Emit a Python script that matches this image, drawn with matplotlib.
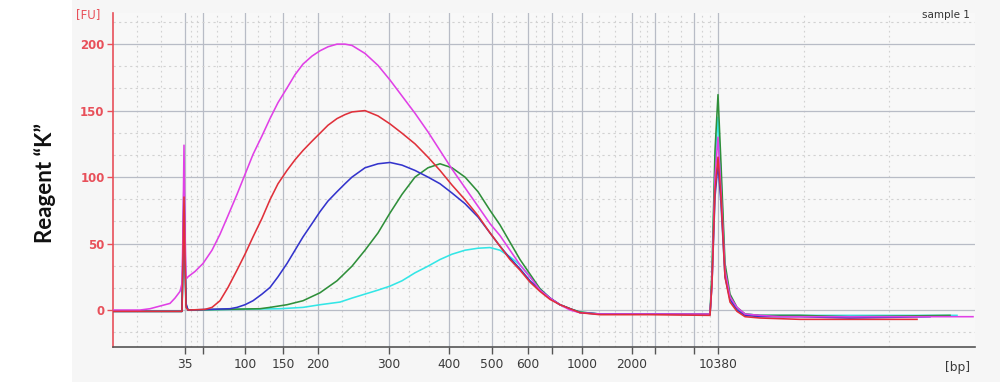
import numpy as np
import matplotlib
matplotlib.use("Agg")
import matplotlib.pyplot as plt
from matplotlib.patches import Rectangle

# x positions are migration positions along the electropherogram axis (arbitrary units)
major_pos = [113, 185, 203, 245, 283, 318, 389, 449, 492, 528, 552, 582, 632, 655, 694, 718, 975]
major_lab = ['', '35', '', '100', '150', '200', '300', '400', '500', '600', '', '1000', '2000', '', '', '10380', '']

# traces: (position, fluorescence units)
mag_x = [113, 140, 150, 160, 170, 175, 180, 182, 183, 184, 185, 186, 187, 188, 195, 203, 212, 220, 228, 237,
         245, 253, 262, 270, 278, 287, 295, 303, 312, 320, 328, 337, 345, 352, 365, 378, 390, 402, 415, 428,
         440, 452, 465, 478, 490, 500, 510, 520, 530, 540, 550, 560, 570, 580, 600, 620, 650, 680, 700, 710,
         712, 715, 718, 721, 725, 730, 737, 745, 760, 780, 820, 860, 900, 940, 973]
mag_y = [0, 0, 1, 3, 5, 9, 14, 20, 60, 124, 60, 25, 24, 25, 29, 35, 45, 57, 71, 87,
         102, 117, 131, 144, 156, 167, 177, 185, 191, 195, 198, 200, 200, 199, 193, 184, 173, 161, 148, 134,
         120, 106, 92, 78, 65, 56, 45, 34, 25, 15, 9, 4, 0, -2, -3, -3, -3, -3, -3, -3,
         20, 100, 130, 90, 30, 10, 2, -3, -4, -5, -5, -5, -5, -5, -5]

red_x = [113, 150, 182, 183, 184, 185, 186, 188, 205, 212, 220, 228, 237, 245, 253, 262, 270, 278, 287, 295,
         303, 312, 320, 328, 337, 345, 352, 365, 378, 390, 402, 415, 428, 440, 452, 465, 478, 490, 500, 510,
         520, 530, 540, 550, 560, 570, 580, 600, 650, 710, 712, 715, 718, 721, 725, 730, 737, 745, 760, 800,
         850, 917]
red_y = [-1, -1, -1, 40, 85, 40, 2, 0, 0.5, 2, 7, 17, 30, 42, 55, 69, 83, 95, 105, 113,
         120, 127, 133, 139, 144, 147, 149, 150, 146, 140, 133, 125, 115, 105, 94, 83, 71, 58, 48, 38,
         30, 21, 14, 8, 4, 1, -2, -3.5, -3.5, -4, 20, 90, 115, 85, 25, 6, -1, -5, -6, -7,
         -7, -7]

blue_x = [113, 182, 183, 184, 185, 186, 188, 230, 237, 245, 253, 262, 270, 278, 287, 295, 303, 312, 320, 328,
          337, 345, 352, 365, 378, 390, 402, 415, 428, 440, 452, 465, 478, 490, 500, 510, 520, 530, 540, 550,
          560, 570, 580, 600, 650, 710, 712, 715, 718, 721, 725, 730, 737, 745, 760, 800, 850, 930]
blue_y = [-1, -1, 50, 100, 50, 5, 0, 1, 2, 4, 7, 12, 17, 25, 35, 45, 55, 65, 74, 82,
          89, 95, 100, 107, 110, 111, 109, 105, 100, 95, 88, 80, 70, 58, 48, 39, 31, 22, 15, 9,
          4, 1, -2, -3, -3, -3.5, 20, 85, 110, 80, 25, 8, 0, -4, -5, -5, -6, -5]

green_x = [113, 182, 183, 184, 185, 186, 188, 260, 270, 287, 303, 320, 337, 352, 365, 378, 390, 402, 415, 428,
           440, 452, 465, 478, 490, 500, 510, 520, 530, 540, 550, 560, 570, 580, 600, 650, 710, 712, 715, 718,
           721, 725, 730, 737, 745, 760, 800, 850, 950]
green_y = [-1, -1, 40, 90, 40, 4, 0, 1, 2, 4, 7, 13, 22, 33, 45, 58, 73, 87, 100, 107,
           110, 107, 100, 89, 75, 64, 51, 38, 27, 16, 9, 4, 1, -1.5, -3, -3, -3, 30, 120, 162,
           110, 35, 12, 2, -3, -4, -4, -5, -4]

cyan_x = [113, 182, 183, 184, 185, 186, 188, 280, 303, 320, 340, 352, 365, 378, 390, 402, 415, 428, 440, 452,
          465, 478, 490, 500, 510, 520, 530, 540, 550, 560, 570, 580, 600, 650, 710, 712, 715, 718, 721, 725,
          730, 737, 745, 760, 800, 850, 957]
cyan_y = [-1, -1, 30, 70, 30, 3, 0, 1, 2, 4, 6, 9, 12, 15, 18, 22, 28, 33, 38, 42,
          45, 46.5, 47, 45, 40, 34, 25, 16, 9, 4, 1, -1.5, -3, -3, -3, 25, 110, 145, 100, 30,
          10, 1, -3, -4, -4, -4, -4]

fig = plt.figure(figsize=(10, 3.82), dpi=100)
fig.patches.append(Rectangle((0.072, 0), 0.928, 1, transform=fig.transFigure,
                             facecolor='#f6f6f6', edgecolor='none', zorder=-10))
ax = fig.add_axes([0.113, 0.0916, 0.862, 0.874])
ax.set_facecolor('#f8f8f8')

ax.set_xlim(113, 975)
ax.set_ylim(-27.8, 223.3)

# grid: solid at major positions, dotted at thirds in between
for i, p in enumerate(major_pos):
    if i > 0:
        q = major_pos[i - 1]
        for f in (1 / 3, 2 / 3):
            ax.axvline(q + (p - q) * f, color='#d2d2d2', lw=0.8, ls=(0, (1.5, 3)), zorder=0)
    if 0 < i < len(major_pos) - 1:
        ax.axvline(p, color='#b8bcc6', lw=0.9, zorder=0)
for v in [0, 50, 100, 150, 200]:
    ax.axhline(v, color='#b8bcc6', lw=0.9, zorder=0)
for v in np.arange(-50 / 3, 223, 50 / 3):
    if abs(v / 50 - round(v / 50)) > 0.01:
        ax.axhline(v, color='#d2d2d2', lw=0.8, ls=(0, (2, 3)), zorder=0)

lw = 1.15
ax.plot(cyan_x, cyan_y, color='#33e6e6', lw=lw, zorder=3)
ax.plot(green_x, green_y, color='#2f8f3a', lw=lw, zorder=3)
ax.plot(blue_x, blue_y, color='#3434cc', lw=lw, zorder=3)
ax.plot(mag_x, mag_y, color='#e040e6', lw=lw, zorder=3)
ax.plot(red_x, red_y, color='#e0303a', lw=lw, zorder=3)

for s in ['top', 'right']:
    ax.spines[s].set_visible(False)
ax.spines['left'].set_color('#e8505a')
ax.spines['left'].set_linewidth(1.2)
ax.spines['bottom'].set_color('#555555')
ax.spines['bottom'].set_linewidth(1.2)

ax.set_xticks(major_pos[1:-1])
ax.set_xticklabels(major_lab[1:-1])
ax.tick_params(axis='x', length=5, width=1, color='#555555', labelsize=8.8, labelcolor='#3a3a3a', pad=3)
ax.set_yticks([0, 50, 100, 150, 200])
ax.tick_params(axis='y', length=4, width=1, color='#e8505a', labelsize=8.5, labelcolor='#e8505a', pad=2)
for lab in ax.get_yticklabels():
    lab.set_fontweight('bold')

fig.text(0.088, 0.962, '[FU]', color='#e8505a', fontsize=8.5, ha='center', va='center')
fig.text(0.958, 0.037, '[bp]', color='#3a3a3a', fontsize=8.8, ha='center', va='center')
fig.text(0.970, 0.962, 'sample 1', color='#333333', fontsize=7.5, ha='right', va='center')
fig.text(0.045, 0.52, 'Reagent \u201cK\u201d', rotation=90, fontsize=16, family='Lato',
         fontweight='bold', ha='center', va='center', color='#111111')

fig.savefig('out.png', dpi=100)
